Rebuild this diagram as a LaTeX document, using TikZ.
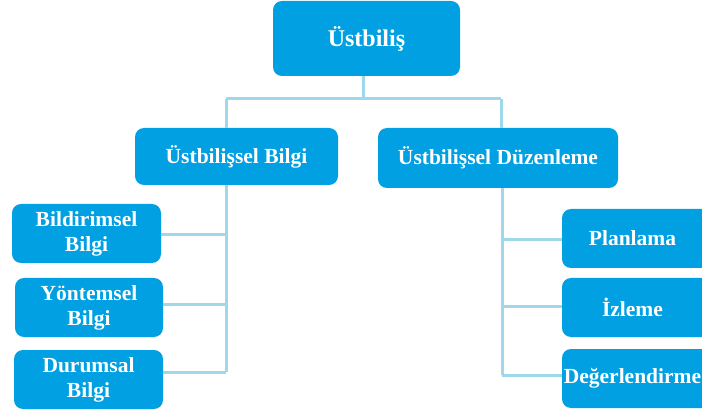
\documentclass[tikz,border=0pt]{standalone}
\usepackage{fontspec}
\setmainfont{Liberation Serif}
\definecolor{boxblue}{HTML}{00A0E3}
\definecolor{lineblue}{HTML}{9FD8EA}
\begin{document}
\begin{tikzpicture}[x=1pt,y=-1pt,
  box/.style={fill=boxblue,draw=none,rounded corners=9pt,text=white,
    font=\bfseries\fontsize{21.5}{25}\selectfont,align=center,inner sep=0pt},
  link/.style={draw=lineblue,line width=3pt}]
\useasboundingbox (0,0) rectangle (702,414);
\node[box,minimum width=187pt,minimum height=75pt,font=\bfseries\fontsize{24}{26}\selectfont] (top) at (366.5,38.5) {Üstbiliş};
\node[box,minimum width=203pt,minimum height=57pt] (bilgi) at (236.5,156.5) {Üstbilişsel Bilgi};
\node[box,minimum width=240pt,minimum height=60pt] (duz) at (498,158) {Üstbilişsel Düzenleme};
\node[box,minimum width=149pt,minimum height=59pt] (bil) at (86.5,233.5) {Bildirimsel\\Bilgi};
\node[box,minimum width=148pt,minimum height=59pt] (yon) at (89,307.5) {Yöntemsel\\Bilgi};
\node[box,minimum width=149pt,minimum height=59pt] (dur) at (88.5,379.5) {Durumsal\\Bilgi};
\node[box,minimum width=150pt,minimum height=59pt] (plan) at (637,238.5) {Planlama\kern9pt};
\node[box,minimum width=150pt,minimum height=59pt] (izl) at (637,307.5) {İzleme\kern9pt};
\node[box,minimum width=150pt,minimum height=59pt] (deg) at (637,378.5) {Değerlendirme\kern9pt};
% junction coordinates
\coordinate (tj) at (363,99);
\coordinate (lj) at (226,99);
\coordinate (rj) at (501,99);
\coordinate (l1) at (226,235);
\coordinate (l2) at (226,305);
\coordinate (l3) at (226,372);
\coordinate (r1) at (502,240);
\coordinate (r2) at (502,307);
\coordinate (r3) at (502,375);
% connectors
\draw[link] (top.south -| tj) -- (tj);
\draw[link] (lj) -- (rj);
\draw[link] (lj) -- (lj |- bilgi.north);
\draw[link] (rj) -- (rj |- duz.north);
\draw[link] (l1 |- bilgi.south) -- (l3);
\draw[link] (l1) -- (l1 -| bil.east);
\draw[link] (l2) -- (l2 -| yon.east);
\draw[link] (l3) -- (l3 -| dur.east);
\draw[link] (r1 |- duz.south) -- (r3);
\draw[link] (r1) -- (r1 -| plan.west);
\draw[link] (r2) -- (r2 -| izl.west);
\draw[link] (r3) -- (r3 -| deg.west);
\end{tikzpicture}
\end{document}
